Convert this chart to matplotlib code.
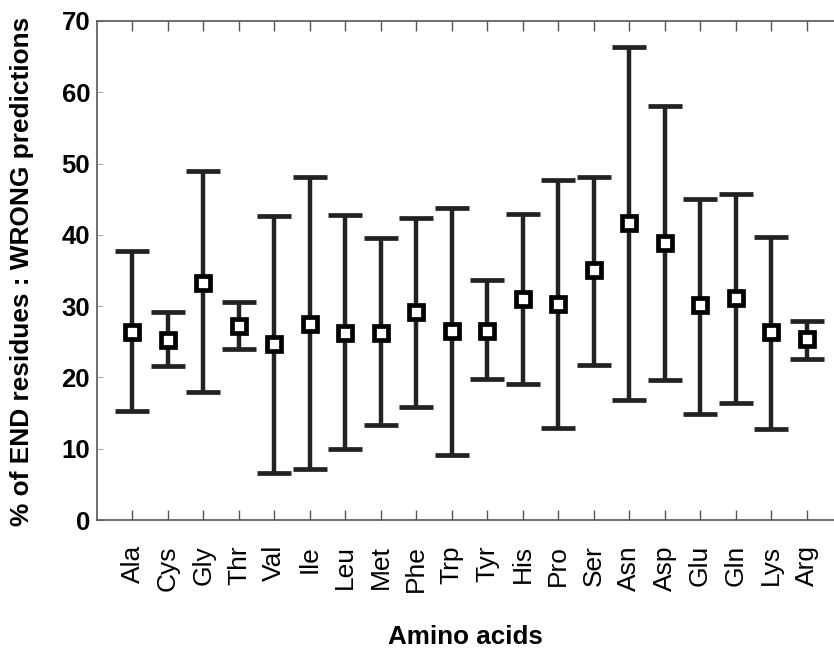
import matplotlib
matplotlib.use("Agg")
import matplotlib.pyplot as plt
import numpy as np

amino_acids = ["Ala", "Cys", "Gly", "Thr", "Val", "Ile", "Leu", "Met", "Phe", "Trp",
               "Tyr", "His", "Pro", "Ser", "Asn", "Asp", "Glu", "Gln", "Lys", "Arg"]
mean_vals = [26.4, 25.2, 33.2, 27.2, 24.7, 27.5, 26.2, 26.2, 29.2, 26.5,
             26.5, 31.0, 30.3, 35.1, 41.6, 38.9, 30.1, 31.2, 26.4, 25.4]
upper_vals = [37.8, 29.2, 48.9, 30.6, 42.6, 48.1, 42.8, 39.5, 42.3, 43.7,
              33.7, 42.9, 47.7, 48.1, 66.4, 58.1, 45.0, 45.7, 39.7, 27.9]
lower_vals = [15.3, 21.6, 18.0, 24.0, 6.6, 7.1, 10.0, 13.3, 15.8, 9.1,
              19.8, 19.1, 12.9, 21.8, 16.8, 19.6, 14.9, 16.4, 12.8, 22.6]
y_ticks = [0, 10, 20, 30, 40, 50, 60, 70]

plt.rcParams['font.family'] = ['Liberation Sans', 'DejaVu Sans']

fig = plt.figure(figsize=(8.34, 6.48), dpi=100)
ax = fig.add_axes([0.1163, 0.1975, 0.8933, 0.7701])

x = np.arange(1, len(amino_acids) + 1)
mean = np.array(mean_vals)
yerr = np.vstack([mean - np.array(lower_vals), np.array(upper_vals) - mean])

ax.errorbar(x, mean, yerr=yerr, fmt='s', color='#222222', ecolor='#222222',
            elinewidth=3.2, capsize=12.5, capthick=3.5,
            markersize=10.5, markerfacecolor='white', markeredgecolor='black',
            markeredgewidth=3.4, zorder=3)

ax.set_xlim(0, 21)
ax.set_ylim(0, 70)
ax.set_xticks(x)
ax.set_xticklabels(amino_acids, rotation=90, fontsize=19)
ax.set_yticks(y_ticks)
ax.set_yticklabels([str(v) for v in y_ticks], fontsize=18.5, fontweight='bold')

ax.tick_params(axis='x', direction='in', length=7, width=1, color='#555555',
               top=True, pad=18)
ax.tick_params(axis='y', direction='in', length=4, width=0.8, color='#aaaaaa',
               right=True, pad=5)
for s in ax.spines.values():
    s.set_color('#555555')
    s.set_linewidth(1.2)

ax.set_ylabel('% of END residues : WRONG predictions', fontsize=18.9,
              fontweight='bold')
ax.yaxis.set_label_coords(-0.0846, 0.498)
ax.set_xlabel('Amino acids', fontsize=18.7, fontweight='bold')
ax.xaxis.set_label_coords(0.494, -0.21)

fig.savefig('out.png', dpi=100)
